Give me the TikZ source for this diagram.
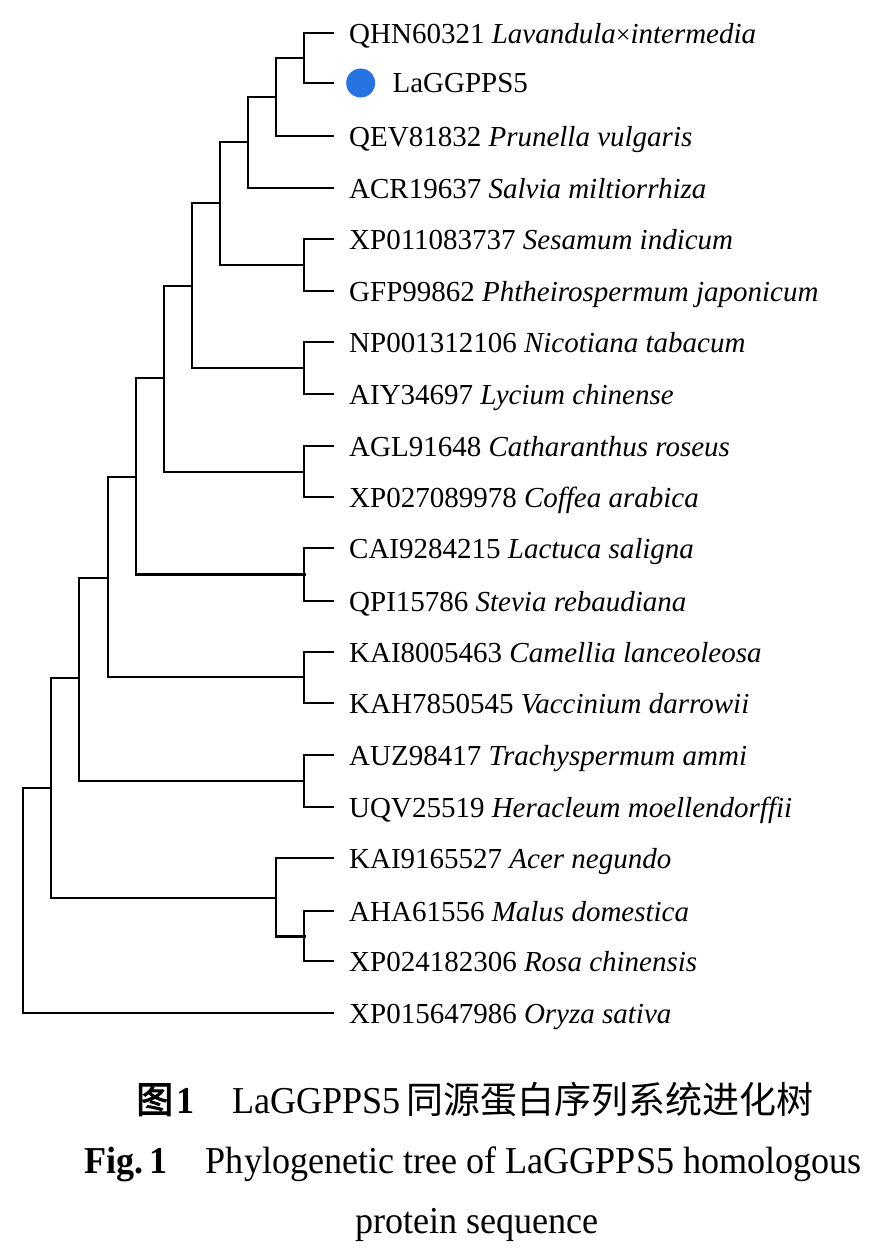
\documentclass[tikz,border=0pt]{standalone}
\usepackage{fontspec}
\setmainfont{Liberation Serif}
\newfontfamily\capfont[FakeStretch=0.95]{Liberation Serif}
\newfontfamily\cjk{Noto Sans CJK SC}
\newfontfamily\cjkbf[FakeBold=2.5]{Noto Sans CJK SC}
\usepackage{xcolor}
\definecolor{dotblue}{RGB}{40,115,226}
\usetikzlibrary{positioning}

\begin{document}
\begin{tikzpicture}[x=1pt, y=-1pt,
        % Define tree styles
        branch/.style={draw, line width=1.8pt, line cap=rect},
        heavybranch/.style={branch, line width=3pt},
        leaf/.style={anchor=west, inner xsep=16pt, inner ysep=0pt, text height=20pt, text depth=0pt,
            font=\fontsize{29}{34}\selectfont},
        marker/.style={circle, fill=dotblue, minimum size=29pt, inner sep=0pt},
        caption/.style={anchor=base, inner sep=0pt, font=\capfont\fontsize{38}{44}\selectfont}
    ]
    \useasboundingbox (0,0) rectangle (870,1258);

    % --- Leaves ---
    \node[leaf] (qhn) at (333,33) {QHN60321 \textit{Lavandula}{\fontsize{26}{26}\selectfont ×}\textit{intermedia}};
    \coordinate (lag) at (333,83);
    \node[marker, right=13pt of lag] (dot) {};
    \node[anchor=west, inner sep=0pt, font=\fontsize{29}{34}\selectfont, right=17pt of dot] (lagtext) {LaGGPPS5};
    \node[leaf] (qev) at (333,136) {QEV81832 \textit{Prunella vulgaris}};
    \node[leaf] (acr) at (333,188) {ACR19637 \textit{Salvia miltiorrhiza}};
    \node[leaf] (ses) at (333,239) {XP011083737 \textit{Sesamum indicum}};
    \node[leaf] (gfp) at (333,291) {GFP99862 \textit{Phtheirospermum japonicum}};
    \node[leaf] (nic) at (333,342) {NP001312106 \textit{Nicotiana tabacum}};
    \node[leaf] (aiy) at (333,394) {AIY34697 \textit{Lycium chinense}};
    \node[leaf] (agl) at (333,446) {AGL91648 \textit{Catharanthus roseus}};
    \node[leaf] (cof) at (333,497) {XP027089978 \textit{Coffea arabica}};
    \node[leaf] (cai) at (333,548) {CAI9284215 \textit{Lactuca saligna}};
    \node[leaf] (qpi) at (333,601) {QPI15786 \textit{Stevia rebaudiana}};
    \node[leaf] (cam) at (333,652) {KAI8005463 \textit{Camellia lanceoleosa}};
    \node[leaf] (kah) at (333,703) {KAH7850545 \textit{Vaccinium darrowii}};
    \node[leaf] (auz) at (333,755) {AUZ98417 \textit{Trachyspermum ammi}};
    \node[leaf] (uqv) at (333,807) {UQV25519 \textit{Heracleum moellendorffii}};
    \node[leaf] (acer) at (333,858) {KAI9165527 \textit{Acer negundo}};
    \node[leaf] (aha) at (333,911) {AHA61556 \textit{Malus domestica}};
    \node[leaf] (rosa) at (333,961) {XP024182306 \textit{Rosa chinensis}};
    \node[leaf] (ory) at (333,1013) {XP015647986 \textit{Oryza sativa}};

    % --- Internal nodes ---
    \coordinate (nA) at (304,58);
    \coordinate (nB) at (276,97);
    \coordinate (nC) at (248,142);
    \coordinate (nE) at (304,265);
    \coordinate (nD) at (220,203);
    \coordinate (nG) at (304,368);
    \coordinate (nF) at (192,286);
    \coordinate (nI) at (304,472);
    \coordinate (nH) at (164,378);
    \coordinate (nK) at (304,574);
    \coordinate (nJ) at (136,477);
    \coordinate (nM) at (304,677);
    \coordinate (nL) at (108,578);
    \coordinate (nO) at (304,781);
    \coordinate (nN) at (79,678);
    \coordinate (nR) at (304,936);
    \coordinate (nQ) at (276,898);
    \coordinate (nP) at (51,788);
    \coordinate (root) at (23,1013);

    % --- Branches ---
    \draw[branch] (nA) |- (qhn.west);
    \draw[branch] (nA) |- (lag);
    \draw[branch] (nB) |- (nA);
    \draw[branch] (nB) |- (qev.west);
    \draw[branch] (nC) |- (nB);
    \draw[branch] (nC) |- (acr.west);
    \draw[branch] (nE) |- (ses.west);
    \draw[branch] (nE) |- (gfp.west);
    \draw[branch] (nD) |- (nC);
    \draw[branch] (nD) |- (nE);
    \draw[branch] (nG) |- (nic.west);
    \draw[branch] (nG) |- (aiy.west);
    \draw[branch] (nF) |- (nD);
    \draw[branch] (nF) |- (nG);
    \draw[branch] (nI) |- (agl.west);
    \draw[branch] (nI) |- (cof.west);
    \draw[branch] (nH) |- (nF);
    \draw[branch] (nH) |- (nI);
    \draw[branch] (nK) |- (cai.west);
    \draw[branch] (nK) |- (qpi.west);
    \draw[branch] (nJ) |- (nH);
    \draw[heavybranch] (nJ |- nK) -- (nK);
    \draw[branch] (nJ) -- (nJ |- nK);
    \draw[branch] (nM) |- (cam.west);
    \draw[branch] (nM) |- (kah.west);
    \draw[branch] (nL) |- (nJ);
    \draw[branch] (nL) |- (nM);
    \draw[branch] (nO) |- (auz.west);
    \draw[branch] (nO) |- (uqv.west);
    \draw[branch] (nN) |- (nL);
    \draw[branch] (nN) |- (nO);
    \draw[branch] (nR) |- (aha.west);
    \draw[branch] (nR) |- (rosa.west);
    \draw[branch] (nQ) |- (acer.west);
    \draw[branch] (nQ) -- (nQ |- nR);
    \draw[heavybranch] (nQ |- nR) -- (nR);
    \draw[branch] (nP) |- (nN);
    \draw[branch] (nP) |- (nQ);
    \draw[branch] (root) |- (nP);
    \draw[branch] (root) -- (ory.west);

    % --- Caption ---
    \node[caption] (cap1) at (475,1113) {{\cjkbf\fontsize{37}{44}\selectfont 图}\hspace{3pt}\textbf{1}\hspace{1em}LaGGPPS5\hspace{6pt}{\cjk\fontsize{37}{44}\selectfont 同源蛋白序列系统进化树}};
    \node[caption] (cap2) at (473,1173) {\textbf{Fig.\,1}\hspace{1em}Phylogenetic tree of LaGGPPS5 homologous};
    \node[caption] (cap3) at (477,1233) {protein sequence};
\end{tikzpicture}
\end{document}
